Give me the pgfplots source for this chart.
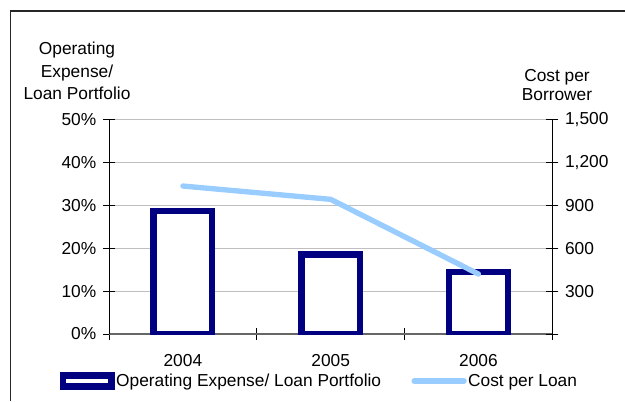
\documentclass[border=0pt]{standalone}
\usepackage{pgfplots}
\pgfplotsset{compat=1.18}
\usepackage{fontspec}
\setmainfont{Liberation Sans}
\definecolor{navyb}{RGB}{0,0,128}
\definecolor{lblue}{RGB}{153,204,255}
\begin{document}
\begin{tikzpicture}[font=\fontsize{13}{15.6}\selectfont]
\begin{scope}[x=0.75pt, y=-0.75pt]
\useasboundingbox (0,0) rectangle (625,401);
\draw[line width=1.1pt, black!85] (10.5,401) -- (10.5,11) -- (625,11);
\node[align=center, font=\fontsize{13}{16.9}\selectfont] at (77,71) {Operating\\Expense/\\Loan Portfolio};
\node[align=center, font=\fontsize{13}{14.5}\selectfont] at (557,85) {Cost per\\Borrower};
\end{scope}
\begin{axis}[at={(81.75pt,-250.5pt)}, anchor=south west, scale only axis,
  width=332.5pt, height=161pt,
  xmin=0, xmax=3, ymin=0, ymax=0.5,
  axis x line*=bottom, axis y line*=left,
  x axis line style={black!60, line width=1.5pt},
  y axis line style={black, line width=0.75pt},
  xtick={0,1,2,3}, xticklabels={},
  extra x ticks={0.5,1.5,2.5}, extra x tick labels={2004,2005,2006},
  extra x tick style={major tick length=0pt, tick style={draw=none}},
  xticklabel style={yshift=-11.5pt},
  ytick={0,0.1,0.2,0.3,0.4,0.5},
  yticklabels={0\%,10\%,20\%,30\%,40\%,50\%},
  yticklabel style={xshift=-1.5pt},
  ymajorgrids, grid style={black!25, line width=0.7pt},
  tick align=center, major tick length=9pt,
  tick style={black, line width=0.75pt},
  legend style={at={(-0.1117,-0.219)}, anchor=west, draw=none, fill=none, inner sep=0pt,
    nodes={inner xsep=1pt}},
]
\addplot[ybar, bar width=44pt, draw=navyb, line width=4.75pt, fill=white,
  legend image code/.code={\draw[line width=4.9pt, navyb, fill=white] (0pt,-4.1pt) rectangle (36.4pt,4.1pt);}]
  coordinates {(0.5,0.287) (1.5,0.185) (2.5,0.144)};
\addlegendentry{Operating Expense/ Loan Portfolio}
\end{axis}
\begin{axis}[at={(81.75pt,-250.5pt)}, anchor=south west, scale only axis,
  width=332.5pt, height=161pt,
  xmin=0, xmax=3, ymin=0, ymax=1500,
  axis x line=none, axis y line*=right,
  y axis line style={black, line width=0.75pt},
  ytick={0,300,600,900,1200,1500},
  yticklabels={,300,600,900,{1,200},{1,500}},
  yticklabel style={xshift=1.5pt},
  tick align=center, major tick length=9pt,
  tick style={black, line width=0.75pt},
  legend style={at={(0.6816,-0.219)}, anchor=west, draw=none, fill=none, inner sep=0pt,
    nodes={inner xsep=1pt}},
]
\addplot[lblue, line width=4pt, line cap=round, line join=round,
  legend image code/.code={\draw[lblue, line width=4.5pt, line cap=round] (0pt,0pt) -- (37pt,0pt);}]
  coordinates {(0.5,1034) (1.5,941) (2.5,419)};
\addlegendentry{Cost per Loan}
\end{axis}
\end{tikzpicture}
\end{document}
